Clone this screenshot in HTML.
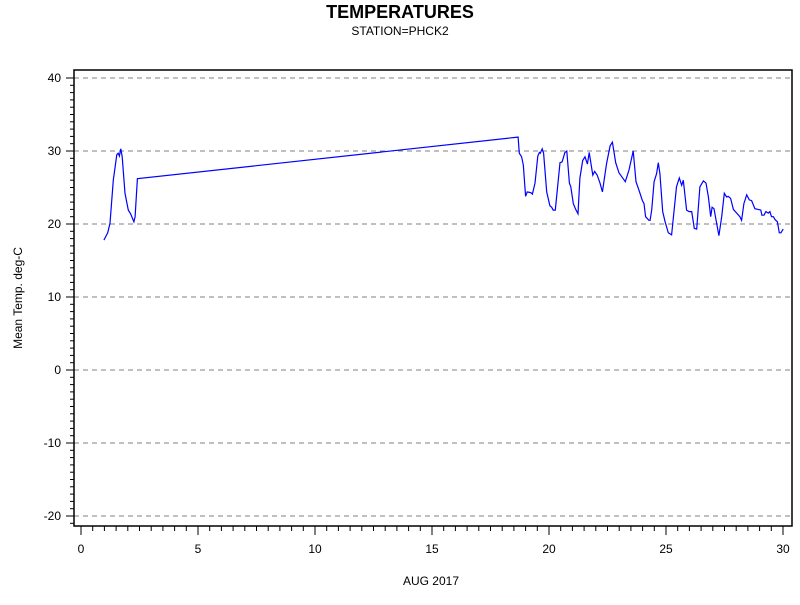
<!DOCTYPE html>
<html><head><meta charset="utf-8"><style>
body{margin:0;background:#fff}
svg text{font-family:"Liberation Sans",sans-serif;fill:#000}
</style></head><body>
<svg width="800" height="600" viewBox="0 0 800 600">
<rect width="800" height="600" fill="#fff"/>
<text x="400" y="18" text-anchor="middle" font-size="18" font-weight="bold">TEMPERATURES</text>
<text x="400" y="35" text-anchor="middle" font-size="12">STATION=PHCK2</text>
<g id="grid"></g>
<g id="axes"></g>
<path id="line" fill="none" stroke="#0000ff" stroke-width="1.2"/>
<rect x="74" y="70" width="718" height="456" fill="none" stroke="#000" stroke-width="1.5"/>
<text x="431" y="585" text-anchor="middle" font-size="12">AUG 2017</text>
<text transform="translate(22,298) rotate(-90)" text-anchor="middle" font-size="12">Mean Temp. deg-C</text>
</svg>
<script>
const days=[0.98,1.14,1.24,1.38,1.53,1.59,1.64,1.70,1.76,1.88,2.02,2.12,2.21,2.26,2.31,2.41,18.68,18.73,18.83,18.90,19.0,19.07,19.22,19.29,19.40,19.52,19.59,19.63,19.71,19.77,19.90,20.04,20.11,20.18,20.27,20.47,20.56,20.68,20.76,20.87,20.93,21.04,21.14,21.24,21.32,21.44,21.54,21.64,21.72,21.87,21.95,22.06,22.18,22.28,22.46,22.61,22.71,22.85,22.99,23.13,23.26,23.42,23.60,23.72,23.86,23.99,24.06,24.13,24.27,24.32,24.39,24.49,24.60,24.67,24.74,24.86,24.96,25.10,25.24,25.45,25.57,25.67,25.74,25.88,25.99,26.10,26.21,26.31,26.45,26.60,26.71,26.81,26.91,26.97,27.05,27.14,27.26,27.38,27.49,27.59,27.66,27.76,27.88,28.02,28.16,28.23,28.33,28.45,28.56,28.66,28.80,28.94,29.05,29.10,29.19,29.27,29.37,29.44,29.51,29.59,29.66,29.76,29.84,29.91,30.01];
const temps=[17.8,18.8,20.1,26.0,29.5,29.7,29.3,30.3,29.2,24.2,21.9,21.4,20.7,20.3,21.0,26.2,31.9,29.7,29.2,28.1,23.8,24.4,24.3,24.1,25.6,29.3,29.8,29.7,30.3,29.7,24.4,22.5,22.3,21.9,21.9,28.4,28.5,29.8,30.0,25.6,25.1,22.8,22.0,21.4,26.3,28.7,29.2,28.2,29.8,26.7,27.2,26.7,25.6,24.4,28.3,30.7,31.2,28.4,27.0,26.4,25.8,27.4,30.0,25.8,24.5,23.2,22.8,21.0,20.5,20.5,21.9,25.8,26.9,28.4,26.9,21.7,20.3,18.8,18.5,25.1,26.3,25.3,26.0,21.9,21.7,21.7,19.4,19.3,25.1,25.9,25.6,23.7,21.0,22.3,22.1,20.5,18.4,21.0,24.2,23.7,23.8,23.5,22.0,21.5,21.0,20.5,22.8,24.0,23.3,23.2,22.1,22.0,21.9,21.2,21.2,21.7,21.5,21.7,21.0,21.0,20.6,20.3,18.8,18.8,19.3];
const yTicks=[-20,-10,0,10,20,30,40];
const xTicks=[0,5,10,15,20,25,30];
const X=d=>81+d*(783-81)/30;
const Y=t=>370-t*(370-78)/40;
const NS='http://www.w3.org/2000/svg';
function mk(tag,attrs,parent){const e=document.createElementNS(NS,tag);for(const k in attrs)e.setAttribute(k,attrs[k]);parent.appendChild(e);return e;}
const grid=document.getElementById('grid'),axes=document.getElementById('axes');
for(const t of yTicks){
 const g=mk('line',{x1:74,x2:792,y1:Y(t),y2:Y(t),stroke:'#808080','stroke-dasharray':'5,4'},grid);
 
 
 const tk=mk('line',{x1:66,x2:74,y1:Y(t),y2:Y(t),stroke:'#000'},axes);
 
 
 const lb=mk('text',{x:61,y:Y(t)+4,'text-anchor':'end','font-size':12},axes);lb.textContent=t;
 
 
}
for(let t=-21;t<=40;t++){if(t%10===0)continue;const y=Y(t);if(y>526)continue;
 const m=mk('line',{x1:70,x2:74,y1:y,y2:y,stroke:'#000'},axes);
 
 }
for(let d=0;d<=30;d+=0.5){if(d%5===0)continue;
 const m=mk('line',{x1:X(d),x2:X(d),y1:526,y2:531,stroke:'#000'},axes);
 
 }
for(const d of xTicks){
 const tk=mk('line',{x1:X(d),x2:X(d),y1:526,y2:535,stroke:'#000'},axes);
 
 
 const lb=mk('text',{x:X(d),y:553,'text-anchor':'middle','font-size':12},axes);lb.textContent=d;
 
 
}
document.getElementById('line').setAttribute('d',days.map((d,i)=>(i?'L':'M')+X(d).toFixed(1)+','+Y(temps[i]).toFixed(1)).join(''));
</script>
</body></html>
